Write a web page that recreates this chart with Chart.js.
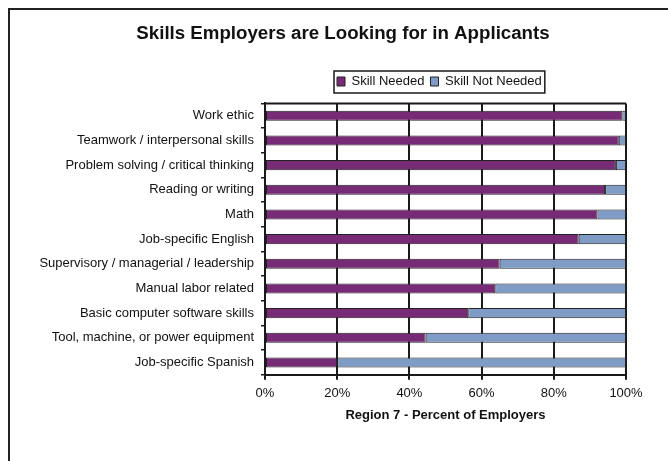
<!DOCTYPE html>
<html lang="en">
<head>
    <meta charset="UTF-8">
    <script src="https://cdn.jsdelivr.net/npm/chart.js@4.4.1/dist/chart.umd.min.js"></script>
    <title>Skills Employers are Looking for in Applicants</title>
    <style>
        body { margin: 0; background: #fff; }
        #chartBox { width: 668px; height: 461px; }
    </style>
</head>
<body>
    <div id="chartBox">
        <canvas id="chart" width="668" height="461"></canvas>
    </div>
    <script>
        // survey answers, percent of employers
        var skills = [
            'Work ethic',
            'Teamwork / interpersonal skills',
            'Problem solving / critical thinking',
            'Reading or writing',
            'Math',
            'Job-specific English',
            'Supervisory / managerial / leadership',
            'Manual labor related',
            'Basic computer software skills',
            'Tool, machine, or power equipment',
            'Job-specific Spanish'
        ];
        var needed    = [99, 98, 97.2, 94.2, 92.1, 86.9, 65, 63.8, 56.3, 44.5, 20];
        var notNeeded = [1, 2, 2.8, 5.8, 7.9, 13.1, 35, 36.2, 43.7, 55.5, 80];
        var xTicks = [0, 20, 40, 60, 80, 100];

        var ink = '#1a1a1a';
        Chart.defaults.font.family = "'Liberation Sans', Arial, sans-serif";
        Chart.defaults.font.size = 13;
        Chart.defaults.color = '#111';

        // page frame + box around the legend + top edge of the plot
        var frame = {
            id: 'frame',
            beforeDraw(chart) {
                var ctx = chart.ctx;
                ctx.save();
                ctx.fillStyle = '#222';
                ctx.fillRect(8, 8, 2, chart.height - 8);
                ctx.fillRect(8, 8, chart.width - 8, 2);
                ctx.restore();
            },
            afterUpdate(chart) {
                // title sits over the plot, not the whole page
                chart.titleBlock.left += 24;
                chart.titleBlock.right += 24;

                // park the legend where the old spreadsheet had it
                var lg = chart.legend;
                var hb = lg.legendHitBoxes;
                if (!hb.length) return;
                var dx = 337 - hb[0].left;
                var dy = 75 - hb[0].top;
                lg.left += dx; lg.right += dx;
                lg.top += dy; lg.bottom += dy;
                hb.forEach(function (h) { h.left += dx; h.top += dy; });
            },
            afterDraw(chart) {
                var ctx = chart.ctx;
                var hb = chart.legend.legendHitBoxes;
                var a = chart.chartArea;
                ctx.save();
                ctx.strokeStyle = ink;
                ctx.lineWidth = 2;
                ctx.beginPath();
                ctx.moveTo(a.left, a.top);
                ctx.lineTo(a.right, a.top);
                ctx.stroke();
                if (hb.length) {
                    var first = hb[0], last = hb[hb.length - 1];
                    var x0 = first.left - 3, x1 = last.left + last.width + 3;
                    ctx.lineWidth = 1.5;
                    ctx.strokeRect(x0, first.top - 4, x1 - x0, first.height + 9);
                }
                ctx.restore();
            }
        };

        new Chart(document.getElementById('chart'), {
            type: 'bar',
            data: {
                labels: skills,
                datasets: [{
                    label: 'Skill Needed',
                    data: needed,
                    backgroundColor: '#772b76',
                    borderColor: '#222',
                    borderWidth: 1,
                    borderSkipped: false
                },
                {
                    label: 'Skill Not Needed',
                    data: notNeeded,
                    backgroundColor: '#7f9cc7',
                    borderColor: '#222',
                    borderWidth: 1,
                    borderSkipped: false
                }]
            },
            options: {
                indexAxis: 'y',
                responsive: false,
                animation: false,
                barPercentage: 0.41,
                categoryPercentage: 1,
                layout: { padding: { top: 12, left: 12, right: 42, bottom: 38 } },
                plugins: {
                    title: {
                        display: true,
                        text: 'Skills Employers are Looking for in Applicants',
                        color: '#111',
                        font: { size: 18.7, weight: 'bold' },
                        padding: { top: 11, bottom: 29 }
                    },
                    legend: {
                        position: 'top',
                        labels: {
                            boxWidth: 8,
                            boxHeight: 9,
                            padding: 6,
                            color: '#111',
                            font: { size: 13 }
                        }
                    },
                    tooltip: { enabled: false }
                },
                scales: {
                    x: {
                        stacked: true,
                        min: 0,
                        max: 100,
                        afterBuildTicks: function (scale) {
                            scale.ticks = xTicks.map(function (v) { return { value: v }; });
                        },
                        ticks: {
                            padding: 6,
                            color: '#111',
                            callback: function (v) { return v + '%'; }
                        },
                        grid: { color: ink, lineWidth: 2, tickLength: 5 },
                        border: { color: ink, width: 2 },
                        title: {
                            display: true,
                            text: 'Region 7 - Percent of Employers',
                            color: '#111',
                            font: { size: 13, weight: 'bold' },
                            padding: { top: 0, bottom: 0 }
                        }
                    },
                    y: {
                        stacked: true,
                        afterFit: function (scale) { scale.width = 253; },
                        ticks: { padding: 7, color: '#111' },
                        grid: { drawOnChartArea: false, color: ink, lineWidth: 1.5, tickLength: 4 },
                        border: { color: ink, width: 2 }
                    }
                }
            },
            plugins: [frame]
        });
    </script>
</body>
</html>
